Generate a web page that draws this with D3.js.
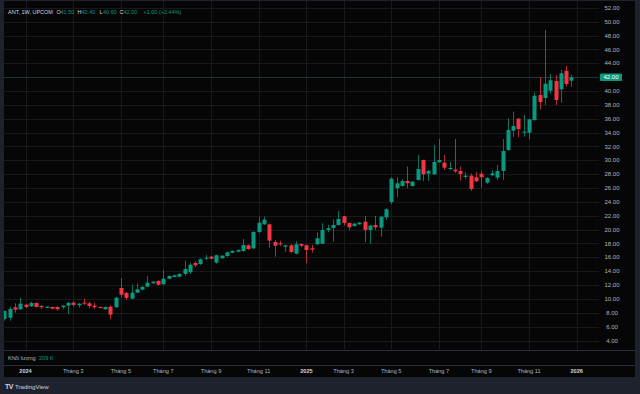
<!DOCTYPE html>
<html>
<head>
<meta charset="utf-8">
<script src="https://cdn.jsdelivr.net/npm/d3@7"></script>
<style>
  body { margin: 0; background: #1e222d; }
  svg { display: block; font-family: "Liberation Sans", Arial, sans-serif; }
</style>
</head>
<body>
<svg id="chart" width="640" height="394"></svg>
<script>
// weekly bars, ANT (UPCOM), Dec 2023 -> Dec 2025
var opens = [7.11,7.29,8.80,8.51,9.17,8.94,9.42,8.98,8.70,8.84,8.84,8.80,9.03,9.46,9.08,9.46,9.37,9.03,8.84,8.51,
  8.88,8.80,11.58,10.86,10.04,10.90,11.34,11.77,12.26,12.59,12.12,12.92,13.17,13.21,13.60,13.85,15.19,15.04,15.85,16.10,
  15.23,15.87,16.20,16.67,16.82,16.92,17.74,17.31,19.66,20.77,20.77,18.22,18.03,17.54,17.74,16.53,17.93,17.74,17.31,17.89,
  17.97,19.95,20.24,20.67,21.93,20.96,20.53,20.77,21.15,19.95,20.67,20.28,21.78,23.99,25.97,26.30,27.02,26.30,27.17,30.05,
  28.07,27.99,29.72,29.66,28.75,28.65,28.46,27.60,27.79,27.56,28.07,26.78,27.84,27.50,28.46,31.49,34.28,36.01,34.05,33.99,
  35.82,39.43,39.00,40.05,41.45,40.25,42.94,41.50];
var highs = [8.30,8.88,9.37,10.18,9.30,9.61,9.50,9.13,8.95,8.90,8.90,9.10,9.61,9.66,9.40,10.04,9.61,9.46,8.90,8.90,
  9.08,10.30,12.98,11.00,12.06,12.26,11.85,13.31,12.60,12.70,14.18,13.40,13.50,13.70,15.52,15.20,15.45,15.85,16.34,16.20,
  16.40,16.35,16.85,17.00,17.15,18.65,17.85,19.80,21.87,21.87,20.90,18.51,18.40,17.80,17.93,18.32,18.00,17.85,17.79,19.62,
  20.92,20.67,21.50,22.69,22.00,21.00,20.95,21.10,21.97,20.70,21.97,21.95,23.08,27.56,27.56,27.30,29.09,27.00,30.77,30.10,
  28.60,32.22,33.08,30.77,29.81,33.08,29.09,28.30,28.10,28.30,28.50,27.60,28.61,29.33,33.08,36.07,37.02,36.10,36.55,36.00,
  39.82,41.99,48.81,42.46,42.32,43.04,43.62,42.40];
var lows = [6.86,6.86,8.02,8.41,8.70,8.84,8.80,8.55,8.65,8.50,8.31,8.51,7.79,8.88,8.74,9.13,8.65,8.59,8.65,8.45,
  7.06,8.70,10.18,9.85,9.95,10.85,11.25,11.70,12.20,11.95,12.00,12.85,13.10,13.10,13.31,13.60,14.60,14.90,15.62,15.70,
  15.10,15.80,16.10,16.60,16.75,16.78,17.10,17.20,19.50,20.67,17.40,16.10,17.64,16.82,16.59,16.44,17.45,15.15,16.67,17.80,
  17.90,19.62,18.26,20.60,20.63,19.95,20.40,20.70,18.18,17.97,19.95,18.98,21.40,23.66,24.67,26.20,25.97,26.20,27.10,27.02,
  27.02,27.90,29.65,28.61,28.61,28.18,27.12,27.30,25.58,26.90,26.05,26.60,27.70,27.17,27.17,31.40,33.41,33.33,33.41,33.04,
  35.70,37.37,37.99,39.58,37.99,38.32,40.63,40.60];
var closes = [8.26,8.55,8.45,9.32,8.84,9.42,8.84,8.80,8.88,8.59,8.51,9.03,9.42,9.13,9.32,9.32,8.98,8.80,8.74,8.84,
  7.73,10.18,10.61,10.14,10.90,11.39,11.73,12.35,12.49,12.06,12.92,13.31,13.41,13.60,14.32,14.94,14.86,15.72,15.95,15.81,
  16.30,16.24,16.73,16.92,17.06,17.79,17.21,19.66,21.00,21.44,18.41,17.68,17.89,17.74,16.78,17.89,17.68,17.06,17.11,18.75,
  19.95,20.20,20.67,21.54,20.96,20.34,20.86,21.00,19.95,20.57,20.34,21.87,22.94,27.35,26.69,27.02,26.69,26.92,28.75,27.99,
  28.46,29.76,30.05,28.94,28.90,28.42,28.03,27.79,25.87,26.98,27.56,27.45,28.13,28.46,31.35,34.38,34.96,34.53,34.14,35.92,
  39.33,38.42,41.06,41.55,38.71,42.56,41.02,42.00];

var priceTicks = d3.range(4, 53, 2);
// bar index where each month label sits (first weekly bar of the month)
var timeTickIndex = [4, 13, 22, 30, 39, 48, 57, 64, 73, 82, 90, 99, 108];
var timeTickLabels = ["2024", "Tháng 3", "Tháng 5", "Tháng 7", "Tháng 9", "Tháng 11", "2025",
  "Tháng 3", "Tháng 5", "Tháng 7", "Tháng 9", "Tháng 11", "2026"];

var symbol = "ANT, 1W, UPCOM";
var lastPrice = 42.00;
var volumeLabel = "209 K";

var up = "#089981", down = "#f23645";
var svg = d3.select("#chart");

var panel = {left: 4, right: 635, top: 1, bottom: 377};
var plotRight = 599;
var volTop = 350, axisTop = 365;

var x = d3.scaleLinear().domain([0, 108]).range([4.3, 576.7]);
var y = d3.scaleLinear().domain([4, 52]).range([340.5, 7.9]);

svg.append("rect")
    .attr("x", panel.left).attr("y", panel.top)
    .attr("width", panel.right - panel.left)
    .attr("height", panel.bottom - panel.top)
    .attr("fill", "#060606");

svg.append("defs").append("clipPath").attr("id", "plotclip")
  .append("rect")
    .attr("x", panel.left).attr("y", panel.top)
    .attr("width", plotRight - panel.left).attr("height", volTop - panel.top);

// grid
svg.append("g").selectAll("line").data(priceTicks).join("line")
    .attr("x1", panel.left).attr("x2", plotRight)
    .attr("y1", d => Math.round(y(d)) + 0.5).attr("y2", d => Math.round(y(d)) + 0.5)
    .attr("stroke", "#18191c");
svg.append("g").selectAll("line").data(timeTickIndex).join("line")
    .attr("x1", d => Math.round(x(d)) + 0.5).attr("x2", d => Math.round(x(d)) + 0.5)
    .attr("y1", panel.top).attr("y2", volTop)
    .attr("stroke", "#18191c");

// pane separators
svg.append("g").selectAll("line").data([volTop, axisTop]).join("line")
    .attr("x1", panel.left).attr("x2", panel.right)
    .attr("y1", d => d + 0.5).attr("y2", d => d + 0.5)
    .attr("stroke", "#2a2e39");

// last price line
svg.append("line")
    .attr("x1", panel.left).attr("x2", plotRight)
    .attr("y1", Math.round(y(lastPrice)) + 0.5).attr("y2", Math.round(y(lastPrice)) + 0.5)
    .attr("stroke", up).attr("stroke-opacity", 0.25);

// candles
var bars = d3.range(opens.length).map(i => ({
  i: i, o: opens[i], h: highs[i], l: lows[i], c: closes[i]
}));

var cg = svg.append("g").attr("clip-path", "url(#plotclip)");
var candle = cg.selectAll("g").data(bars).join("g");
candle.append("line")
    .attr("x1", d => Math.round(x(d.i)) + 0.5).attr("x2", d => Math.round(x(d.i)) + 0.5)
    .attr("y1", d => y(d.h)).attr("y2", d => y(d.l))
    .attr("stroke", d => d.c >= d.o ? up : down)
    .attr("stroke-opacity", 0.75);
candle.append("rect")
    .attr("x", d => Math.round(x(d.i)) - 1.5)
    .attr("width", 4)
    .attr("y", d => y(Math.max(d.o, d.c)))
    .attr("height", d => Math.max(1, Math.abs(y(d.o) - y(d.c))))
    .attr("fill", d => d.c >= d.o ? up : down);

// price axis labels
svg.append("g").selectAll("text").data(priceTicks.filter(d => d !== lastPrice)).join("text")
    .attr("x", 612).attr("y", d => y(d))
    .attr("dy", "0.35em")
    .attr("text-anchor", "middle")
    .attr("font-size", 6)
    .attr("fill", "#b2b5be")
    .text(d => d.toFixed(2));

svg.append("rect")
    .attr("x", 600).attr("y", y(lastPrice) - 3.8)
    .attr("width", 22).attr("height", 7.6)
    .attr("rx", 1)
    .attr("fill", up);
svg.append("text")
    .attr("x", 611).attr("y", y(lastPrice))
    .attr("dy", "0.35em")
    .attr("text-anchor", "middle")
    .attr("font-size", 6)
    .attr("fill", "#ffffff")
    .text(lastPrice.toFixed(2));

// time axis labels
var isYear = k => /^\d{4}$/.test(timeTickLabels[k]);
svg.append("g").selectAll("text").data(timeTickIndex).join("text")
    .attr("x", d => x(d)).attr("y", 371.5)
    .attr("dy", "0.35em")
    .attr("text-anchor", "middle")
    .attr("font-size", 5.6)
    .attr("font-weight", (d, k) => isYear(k) ? "bold" : "normal")
    .attr("fill", (d, k) => isYear(k) ? "#d1d4dc" : "#b2b5be")
    .text((d, k) => timeTickLabels[k]);

// header legend
var last = opens.length - 1;
var legend = [
  {t: symbol, x: 8, c: "#d1d4dc"},
  {t: "O", x: 56.5, c: "#d1d4dc"}, {t: opens[last].toFixed(2), x: 60.5, c: up},
  {t: "H", x: 77.5, c: "#d1d4dc"}, {t: highs[last].toFixed(2), x: 81.5, c: up},
  {t: "L", x: 99.5, c: "#d1d4dc"}, {t: lows[last].toFixed(2), x: 103, c: up},
  {t: "C", x: 119.5, c: "#d1d4dc"}, {t: closes[last].toFixed(2), x: 123.5, c: up},
  {t: "+1.00 (+2.44%)", x: 143.5, c: up}
];
svg.append("g").selectAll("text").data(legend).join("text")
    .attr("x", d => d.x).attr("y", 11.8)
    .attr("dy", "0.35em")
    .attr("font-size", 5.5)
    .attr("fill", d => d.c)
    .text(d => d.t);

// volume pane label
svg.append("text")
    .attr("x", 8).attr("y", 357.7).attr("dy", "0.35em")
    .attr("font-size", 5.6).attr("fill", "#b2b5be")
    .text("Khối lượng");
svg.append("text")
    .attr("x", 39).attr("y", 357.7).attr("dy", "0.35em")
    .attr("font-size", 5.6).attr("fill", up)
    .text(volumeLabel);

// footer
svg.append("text")
    .attr("x", 5).attr("y", 386.5).attr("dy", "0.35em")
    .attr("font-size", 7).attr("font-weight", "bold").attr("fill", "#d1d4dc")
    .attr("letter-spacing", -0.6)
    .text("TV");
svg.append("text")
    .attr("x", 15).attr("y", 386.5).attr("dy", "0.35em")
    .attr("font-size", 6.1).attr("fill", "#d1d4dc")
    .text("TradingView");
</script>
</body>
</html>
